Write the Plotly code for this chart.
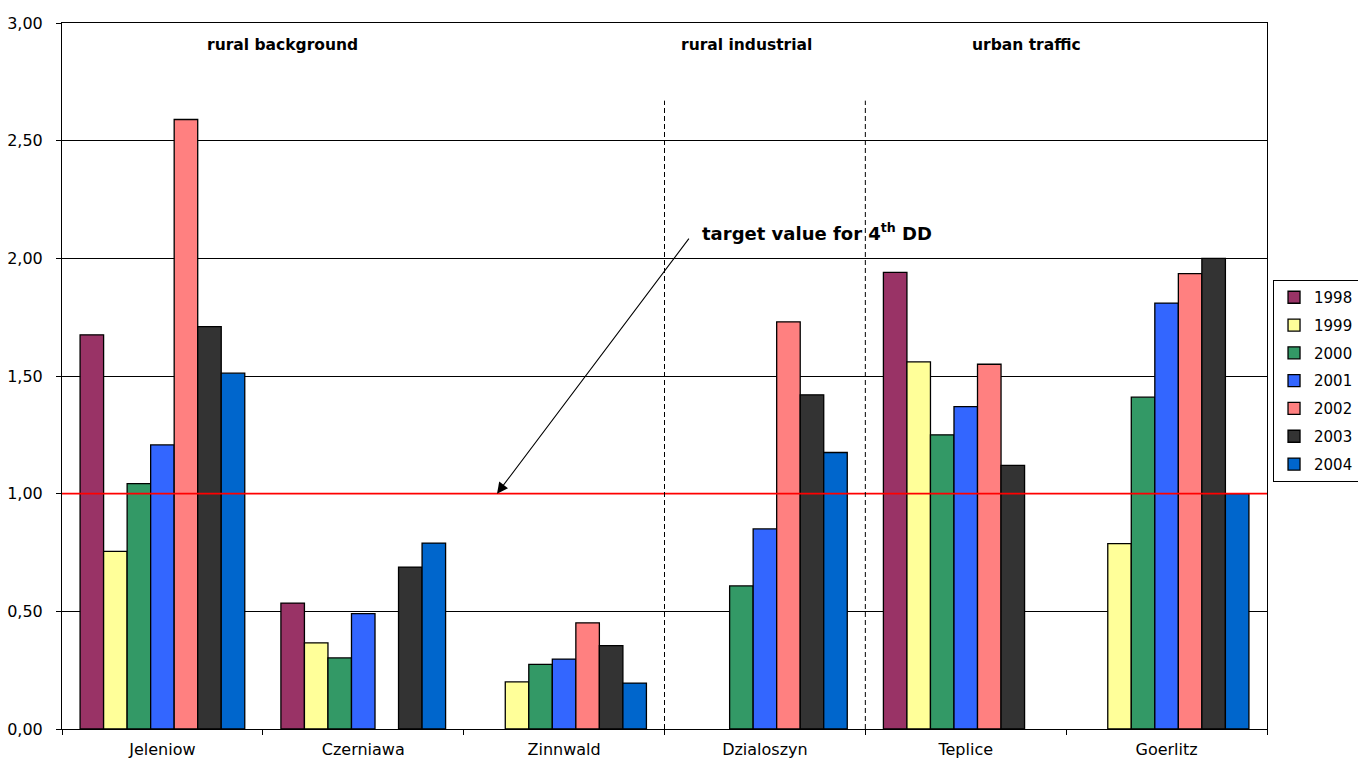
import plotly.graph_objects as go

# Stations and yearly values
stations = ["Jeleniow", "Czerniawa", "Zinnwald", "Dzialoszyn", "Teplice", "Goerlitz"]
years = ["1998", "1999", "2000", "2001", "2002", "2003", "2004"]

v1998 = [1.675, 0.535, None, None, 1.94, None]
v1999 = [0.755, 0.366, 0.20, None, 1.56, 0.788]
v2000 = [1.043, 0.302, 0.275, 0.608, 1.25, 1.41]
v2001 = [1.207, 0.49, 0.297, 0.85, 1.37, 1.81]
v2002 = [2.59, None, 0.451, 1.73, 1.55, 1.935]
v2003 = [1.71, 0.688, 0.354, 1.42, 1.12, 2.00]
v2004 = [1.512, 0.79, 0.195, 1.175, None, 1.00]

series = [v1998, v1999, v2000, v2001, v2002, v2003, v2004]
colors = ["#993366", "#FFFF99", "#339966", "#3366FF", "#FF8080", "#333333", "#0066CC"]

target_value = 1.0

FONT = "DejaVu Sans, Verdana, sans-serif"

fig = go.Figure()
for yr, vals, col in zip(years, series, colors):
    fig.add_trace(go.Bar(
        x=stations, y=vals, name=yr, legendgroup=yr,
        marker=dict(color=col, line=dict(color="black", width=1.3)),
    ))

# target line
fig.add_shape(type="line", xref="paper", yref="y", x0=0, x1=1,
              y0=target_value, y1=target_value, line=dict(color="red", width=1.6))

# dashed separators between station types
for xs in [2.5, 3.5]:
    fig.add_shape(type="line", xref="x", yref="y", x0=xs, x1=xs, y0=0, y1=2.67,
                  line=dict(color="black", width=1, dash="5px,3px"))

# station type headings
for label, xpos in [("rural background", 0.596), ("rural industrial", 2.906), ("urban traffic", 4.30)]:
    fig.add_annotation(x=xpos, y=2.907, xref="x", yref="y", text=f"<b>{label}</b>",
                       showarrow=False, font=dict(family=FONT, size=15.5, color="black"))

# arrow to target line
fig.add_annotation(x=1.666, y=target_value, ax=2.627, ay=2.09, xref="x", yref="y",
                   axref="x", ayref="y", text="", showarrow=True,
                   arrowhead=2, arrowsize=2, arrowwidth=1.1, arrowcolor="black")
fig.add_annotation(x=2.677, y=2.112, xref="x", yref="y", xanchor="left",
                   text="<b>target value for 4<sup>th</sup> DD</b>", showarrow=False,
                   font=dict(family=FONT, size=18, color="black"))

fig.update_layout(
    width=1358, height=762,
    margin=dict(l=62, r=91, t=23, b=33, autoexpand=False),
    paper_bgcolor="white", plot_bgcolor="white",
    barmode="group", bargap=0.18, bargroupgap=0,
    separators=", ",
    font=dict(family=FONT, size=16, color="black"),
    showlegend=True,
    legend=dict(x=1.005, y=0.636, xanchor="left", yanchor="top",
                bordercolor="black", borderwidth=1, bgcolor="white",
                font=dict(family=FONT, size=15, color="black"),
                tracegroupgap=5.3, itemwidth=30),
)
fig.update_xaxes(showline=True, linecolor="black", linewidth=1, mirror=True,
                 ticks="outside", ticklen=5, tickcolor="black", tickson="boundaries",
                 ticklabelstandoff=6,
                 tickfont=dict(family=FONT, size=16), showgrid=False)
fig.update_yaxes(range=[0, 3], dtick=0.5, tickformat=".2f", showline=True, linecolor="black",
                 linewidth=1, mirror=True, ticks="outside", ticklen=5, tickcolor="black",
                 ticklabelstandoff=10,
                 showgrid=True, gridcolor="black", gridwidth=1, zeroline=False,
                 tickfont=dict(family=FONT, size=16))

fig.write_html("out.html")
